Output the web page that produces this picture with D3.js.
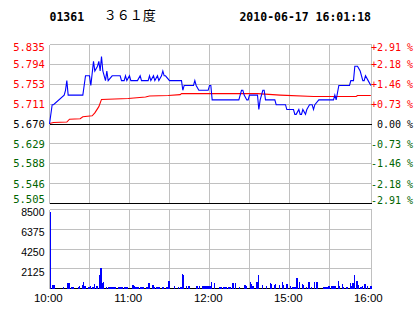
<!DOCTYPE html>
<html>
<head>
<meta charset="utf-8">
<script src="https://cdn.jsdelivr.net/npm/d3@7"></script>
<style>
  html, body { margin: 0; padding: 0; background: #fff; }
  svg { display: block; }
  .mono { font-family: "DejaVu Sans Mono", monospace; white-space: pre; }
  .sans { font-family: "Liberation Sans", Arial, sans-serif; }
</style>
</head>
<body>
<svg id="chart"></svg>
<script>
// header
const stockCode = "01361";
const stockName = "３６１度";
const stamp = "2010-06-17 16:01:18";

// axes
const prevClose = 5.670;
const priceTicks = [5.835, 5.794, 5.753, 5.711, 5.670, 5.629, 5.588, 5.546, 5.505];
const pctTicks = ["+2.91 %", "+2.18 %", "+1.46 %", "+0.73 %", " 0.00 %", "-0.73 %", "-1.46 %", "-2.18 %", "-2.91 %"];
const volTicks = [8500, 6375, 4250, 2125];
const timeTicks = [0, 60, 120, 180, 240];
const timeLabels = ["10:00", "11:00", "12:00", "15:00", "16:00"];
const gridMinutes = [30, 60, 90, 120, 150, 180, 210];

// [trading minute, price]
const priceLine = [
  [0, 5.67], [2, 5.71], [3, 5.71], [11, 5.73], [12, 5.74], [13, 5.76], [14, 5.73], [25, 5.73],
  [26, 5.75], [27, 5.77], [30, 5.77], [31, 5.75], [33, 5.80], [34, 5.78], [36, 5.79], [37, 5.80],
  [38, 5.78], [39, 5.81], [40, 5.78], [42, 5.76], [43, 5.78], [44, 5.76], [47, 5.77], [53, 5.77],
  [54, 5.76], [56, 5.76], [57, 5.77], [58, 5.76], [60, 5.77], [61, 5.76], [66, 5.76], [68, 5.77],
  [69, 5.76], [74, 5.76], [75, 5.77], [76, 5.76], [78, 5.77], [79, 5.76], [81, 5.77], [82, 5.76],
  [84, 5.77], [85, 5.78], [86, 5.77], [87, 5.77], [90, 5.76], [99, 5.76], [100, 5.74], [101, 5.75],
  [108, 5.75], [109, 5.76], [110, 5.75], [112, 5.74], [119, 5.74], [120, 5.75], [121, 5.75], [122, 5.72],
  [142, 5.72], [144, 5.74], [145, 5.74], [146, 5.73], [148, 5.72], [149, 5.72], [150, 5.73], [156, 5.73],
  [157, 5.70], [158, 5.72], [160, 5.74], [161, 5.74], [162, 5.72], [169, 5.72], [170, 5.71], [177, 5.71],
  [178, 5.70], [183, 5.70], [184, 5.69], [185, 5.69], [187, 5.70], [188, 5.69], [189, 5.69], [190, 5.70],
  [192, 5.69], [193, 5.70], [195, 5.71], [197, 5.71], [198, 5.70], [199, 5.71], [202, 5.72], [204, 5.72],
  [213, 5.72], [214, 5.73], [215, 5.72], [217, 5.75], [225, 5.75], [226, 5.76], [228, 5.76], [229, 5.79],
  [231, 5.79], [233, 5.78], [235, 5.76], [236, 5.76], [237, 5.77], [239, 5.76], [241, 5.75]
];

// [trading minute, average price]
const avgLine = [
  [0, 5.671], [3, 5.673], [13, 5.674], [15, 5.680], [23, 5.681], [25, 5.685], [32, 5.687], [34, 5.693],
  [37, 5.706], [39, 5.721], [59, 5.723], [72, 5.726], [75, 5.728], [89, 5.729], [98, 5.731], [99, 5.733],
  [156, 5.733], [173, 5.730], [198, 5.727], [230, 5.727], [231, 5.729], [241, 5.729]
];

// [trading minute, volume]
const volumeBars = [
  [0, 8280], [2, 430], [3, 430], [10, 215], [13, 575], [14, 575], [16, 215], [17, 215], [21, 215],
  [22, 320], [24, 430], [25, 680], [26, 320], [29, 215], [30, 320], [32, 215], [33, 500], [35, 320],
  [37, 1500], [38, 2190], [39, 610], [40, 750], [42, 215], [44, 215], [45, 215], [46, 215], [47, 215],
  [48, 215], [49, 215], [51, 215], [52, 215], [53, 215], [54, 215], [56, 215], [57, 215], [58, 215],
  [62, 390], [63, 320], [64, 215], [65, 215], [66, 215], [68, 215], [69, 215], [70, 215], [72, 215],
  [73, 215], [74, 645], [77, 395], [78, 215], [80, 215], [81, 215], [82, 215], [84, 215], [85, 215],
  [87, 215], [88, 215], [89, 860], [93, 320], [96, 215], [98, 215], [99, 1580], [100, 1400], [102, 250],
  [104, 290], [110, 290], [112, 320], [114, 290], [115, 290], [116, 290], [117, 290], [118, 320],
  [119, 320], [120, 320], [121, 750], [123, 575], [127, 215], [128, 215], [130, 215], [131, 215],
  [132, 215], [134, 215], [135, 215], [137, 645], [139, 645], [142, 215], [146, 395], [147, 320],
  [150, 680], [151, 500], [152, 290], [155, 750], [156, 1400], [159, 395], [162, 320], [165, 645],
  [166, 465], [168, 395], [169, 465], [172, 360], [174, 750], [175, 430], [177, 500], [178, 500],
  [180, 290], [182, 215], [183, 215], [184, 215], [185, 1110], [187, 680], [189, 500], [190, 395],
  [192, 215], [194, 750], [196, 215], [198, 750], [200, 750], [205, 215], [206, 215], [207, 215],
  [208, 215], [209, 290], [211, 250], [212, 250], [213, 250], [214, 250], [216, 860], [217, 320],
  [219, 500], [220, 215], [222, 215], [223, 215], [225, 645], [226, 320], [227, 610], [228, 1400],
  [230, 860], [231, 395], [233, 215], [234, 320], [236, 500], [238, 320], [240, 290], [241, 320]
];

const W = 414, H = 314;
const left = 49.5, right = 371.5;
const pTop = 44.5, pBottom = 203.5;
const vTop = 209.5, vBottom = 288.5;
const grid = "#c0c0c0", red = "#ff0000", green = "#006400", blue = "#0000ff";

const svg = d3.select("#chart").attr("width", W).attr("height", H);

const x = d3.scaleLinear().domain([0, 240]).range([left, left + 320]);
const yP = d3.scaleLinear().domain([priceTicks[8], priceTicks[0]]).range([pBottom, pTop]);
const yV = d3.scaleLinear().domain([0, volTicks[0]]).range([vBottom, vTop]);

const tickColor = v => v > prevClose + 1e-9 ? red : (v < prevClose - 1e-9 ? green : "#000");

// header texts
svg.append("text").attr("class", "mono").attr("x", 49.5).attr("y", 20.7)
  .attr("font-size", 11.5).attr("font-weight", "bold").text(stockCode);
svg.append("text").attr("x", 103.8).attr("y", 20)
  .attr("font-family", "'Noto Sans CJK SC', sans-serif").attr("font-size", 13).text(stockName);
svg.append("text").attr("class", "mono").attr("x", 371).attr("y", 20.7).attr("text-anchor", "end")
  .attr("font-size", 11.5).attr("font-weight", "bold").text(stamp);

// grid
const g = svg.append("g").attr("shape-rendering", "crispEdges");
[[pTop, pBottom], [vTop, vBottom]].forEach(([t, b]) => {
  g.selectAll(null).data(gridMinutes).join("line")
    .attr("x1", d => x(d)).attr("x2", d => x(d)).attr("y1", t).attr("y2", b)
    .attr("stroke", grid);
  g.append("line").attr("x1", left).attr("x2", left).attr("y1", t).attr("y2", b).attr("stroke", grid);
  g.append("line").attr("x1", right).attr("x2", right).attr("y1", t).attr("y2", b).attr("stroke", grid);
});
g.selectAll(null).data(priceTicks).join("line")
  .attr("x1", left).attr("x2", right)
  .attr("y1", d => yP(d)).attr("y2", d => yP(d))
  .attr("stroke", (d, i) => (d === prevClose || i === priceTicks.length - 1) ? "#000" : grid);
g.selectAll(null).data(volTicks.concat([0])).join("line")
  .attr("x1", left).attr("x2", right)
  .attr("y1", d => yV(d)).attr("y2", d => yV(d))
  .attr("stroke", d => d === 0 ? "#000" : grid);

// price axis labels
const clampY = v => Math.max(pTop + 2.8, Math.min(pBottom - 3.8, yP(v)));
svg.selectAll(null).data(priceTicks).join("text")
  .attr("class", "mono").attr("font-size", 10.5)
  .attr("x", 44.8).attr("text-anchor", "end")
  .attr("y", d => clampY(d)).attr("dy", "0.36em")
  .attr("fill", d => tickColor(d))
  .text(d => d.toFixed(3));
svg.selectAll(null).data(priceTicks).join("text")
  .attr("class", "mono").attr("font-size", 10)
  .attr("x", 371).attr("y", d => clampY(d)).attr("dy", "0.38em")
  .attr("fill", d => tickColor(d))
  .text((d, i) => pctTicks[i]);

// volume labels
svg.selectAll(null).data(volTicks).join("text")
  .attr("class", "sans").attr("font-size", 10.5)
  .attr("x", 44.5).attr("text-anchor", "end")
  .attr("y", d => yV(d) + 6.8)
  .text(d => d);

// time labels
svg.selectAll(null).data(timeTicks).join("text")
  .attr("class", "sans").attr("font-size", 11.5)
  .attr("x", d => x(d) - 1.2).attr("y", 302.3).attr("text-anchor", "middle")
  .text((d, i) => timeLabels[i]);

// volume bars
const step = x(1) - x(0);
svg.append("g").attr("shape-rendering", "crispEdges")
  .selectAll("rect").data(volumeBars).join("rect")
  .attr("x", d => x(d[0])).attr("width", step)
  .attr("y", d => yV(d[1])).attr("height", d => vBottom - yV(d[1]))
  .attr("fill", blue);

// average and price lines
const line = d3.line().x(d => x(d[0])).y(d => yP(d[1]));
svg.append("path").datum(avgLine).attr("d", line)
  .attr("fill", "none").attr("stroke", red).attr("stroke-width", 1.1);
svg.append("path").datum(priceLine).attr("d", line)
  .attr("fill", "none").attr("stroke", blue).attr("stroke-width", 1.1);
</script>
</body>
</html>
